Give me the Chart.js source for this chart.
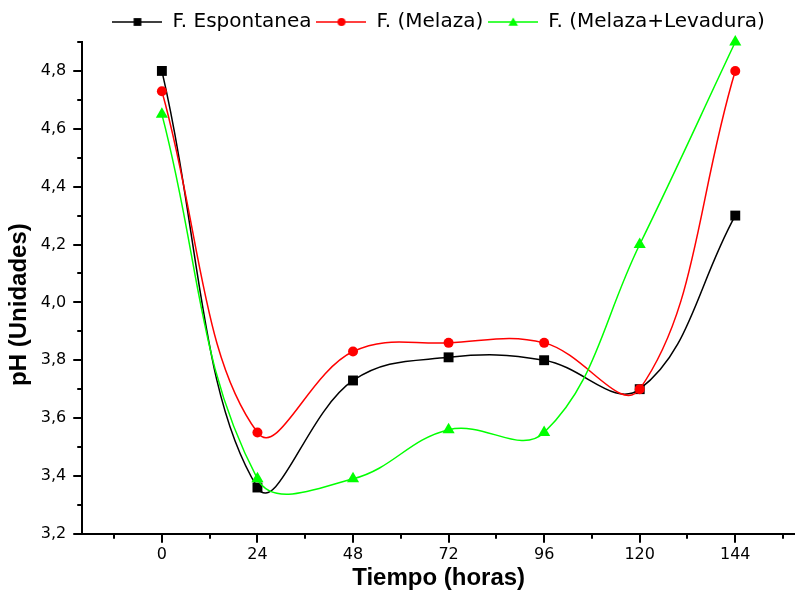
<!DOCTYPE html>
<html>
<head>
<meta charset="utf-8">
<script src="https://cdn.jsdelivr.net/npm/chart.js@4.4.1/dist/chart.umd.min.js"></script>
<style>
    body { margin: 0; background: #fff; }
    #wrap { width: 795px; height: 590px; }
</style>
</head>
<body>
<div id="wrap"><canvas id="phChart"></canvas></div>
<script>
const hours = [0, 24, 48, 72, 96, 120, 144];
const espontanea = [4.80, 3.36, 3.73, 3.81, 3.80, 3.70, 4.30];
const melaza = [4.73, 3.55, 3.83, 3.86, 3.86, 3.70, 4.80];
const melazaLevadura = [4.65, 3.39, 3.39, 3.56, 3.55, 4.20, 4.90];
const seriesNames = ['F. Espontanea', 'F. (Melaza)', 'F. (Melaza+Levadura)'];
const xMinorTicks = [-12, 12, 36, 60, 84, 108, 132, 156];
const yMinorTicks = [3.3, 3.5, 3.7, 3.9, 4.1, 4.3, 4.5, 4.7, 4.9];

const colors = ['#000000', '#ff0000', '#00ff00'];
const markers = ['rect', 'circle', 'triangle'];
const markerSize = [7, 5, 7];
const legendMarkerSize = [5.5, 4, 5.5];

Chart.defaults.font.family = 'DejaVu Sans';
Chart.defaults.color = '#000';

const toPoints = (ys) => hours.map((h, i) => ({ x: h, y: ys[i] }));

// little line-marker-line pictures for the legend
function makeIcon(i) {
    var c = document.createElement('canvas');
    c.width = 50;
    c.height = 14;
    var ctx = c.getContext('2d');
    ctx.strokeStyle = colors[i];
    ctx.fillStyle = colors[i];
    ctx.lineWidth = 1.5;
    ctx.beginPath();
    ctx.moveTo(0, 7);
    ctx.lineTo(50, 7);
    ctx.stroke();
    Chart.helpers.drawPoint(ctx, { pointStyle: markers[i], radius: legendMarkerSize[i], rotation: 0, borderWidth: 0 }, 25, i == 2 ? 8 : 7);
    return c;
}
const legendIcons = [0, 1, 2].map(makeIcon);

const minorTicks = {
    id: 'minorTicks',
    afterDraw(chart) {
        const ctx = chart.ctx, x = chart.scales.x, y = chart.scales.y;
        ctx.save();
        ctx.strokeStyle = '#000';
        ctx.lineWidth = 2;
        ctx.beginPath();
        xMinorTicks.forEach(v => {
            const px = Math.round(x.getPixelForValue(v));
            ctx.moveTo(px, y.bottom);
            ctx.lineTo(px, y.bottom + 5);
        });
        yMinorTicks.forEach(v => {
            const py = Math.round(y.getPixelForValue(v));
            ctx.moveTo(x.left, py);
            ctx.lineTo(x.left - 5, py);
        });
        ctx.stroke();
        ctx.restore();
    }
};

const allSeries = [espontanea, melaza, melazaLevadura];

new Chart('phChart', {
    type: 'line',
    data: {
        datasets: allSeries.map((s, i) => ({
            label: seriesNames[i],
            data: toPoints(s),
            borderColor: colors[i],
            backgroundColor: colors[i],
            borderWidth: 1.5,
            tension: 0.4,
            fill: false,
            clip: false,
            pointStyle: markers[i],
            pointRadius: markerSize[i],
            pointBackgroundColor: colors[i],
            pointBorderWidth: 0,
            order: 3 - i
        }))
    },
    options: {
        responsive: true,
        maintainAspectRatio: false,
        animation: false,
        layout: { autoPadding: false, padding: { top: 7, left: 1, right: 0, bottom: 0 } },
        plugins: {
            tooltip: { enabled: false },
            legend: {
                position: 'top',
                align: 'center',
                fullSize: false,
                labels: {
                    usePointStyle: true,
                    pointStyleWidth: 50,
                    padding: 5,
                    font: { size: 20 },
                    color: '#000',
                    generateLabels(chart) {
                        return chart.data.datasets.map((ds, i) => ({
                            text: ds.label,
                            pointStyle: legendIcons[i],
                            datasetIndex: i,
                            hidden: false,
                            lineWidth: 0,
                            fillStyle: ds.borderColor,
                            strokeStyle: ds.borderColor
                        }));
                    }
                }
            }
        },
        scales: {
            x: {
                type: 'linear',
                min: -20, max: 159,
                border: { color: '#000', width: 2 },
                grid: { drawOnChartArea: false, tickLength: 9, tickColor: '#000', tickWidth: 2, lineWidth: 2 },
                ticks: { stepSize: 24, includeBounds: false, padding: 2, maxRotation: 0, font: { size: 16 } },
                title: {
                    display: true,
                    text: 'Tiempo (horas)',
                    padding: 0,
                    font: { family: 'Liberation Sans', size: 24, weight: 'bold', lineHeight: 1 }
                }
            },
            y: {
                min: 3.2, max: 4.9,
                border: { color: '#000', width: 2 },
                grid: { drawOnChartArea: false, tickLength: 9, tickColor: '#000', tickWidth: 2, lineWidth: 2 },
                ticks: {
                    stepSize: 0.2,
                    includeBounds: false,
                    padding: 7,
                    font: { size: 16 },
                    callback: (v) => v.toFixed(1).replace('.', ',')
                },
                title: {
                    display: true,
                    text: 'pH (Unidades)     ',
                    padding: { top: 4, bottom: 0 },
                    font: { family: 'Liberation Sans', size: 24, weight: 'bold' }
                }
            }
        }
    },
    plugins: [minorTicks]
});
</script>
</body>
</html>
